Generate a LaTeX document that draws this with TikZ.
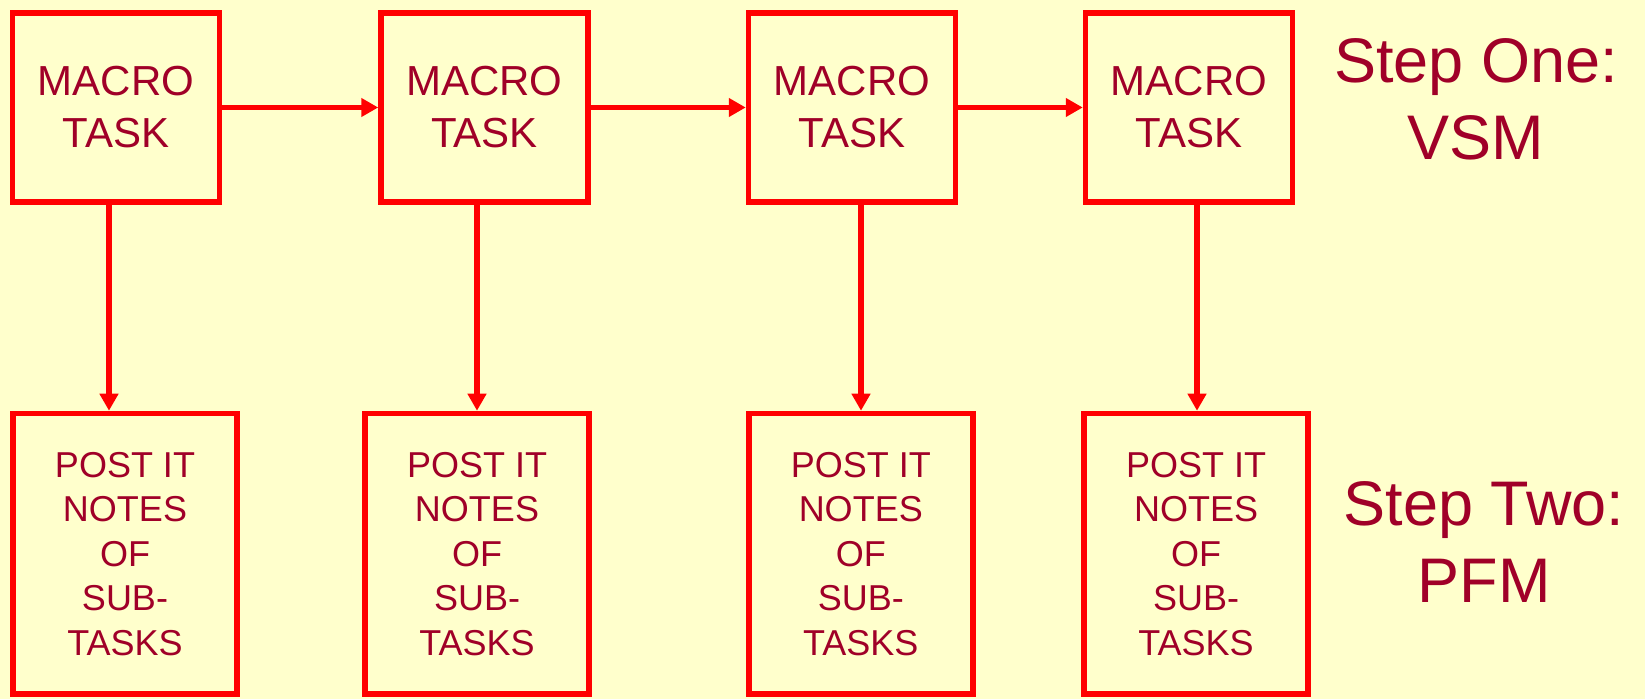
\documentclass[tikz,border=0pt]{standalone}
\usepackage{fontspec}
\setmainfont{Liberation Sans}
\usepackage{tikz}
\usetikzlibrary{arrows.meta}

\definecolor{bgyellow}{RGB}{255,255,204}
\definecolor{boxred}{RGB}{255,0,0}
\definecolor{textred}{RGB}{160,0,40}

\begin{document}
\begin{tikzpicture}[x=1pt,y=1pt,
    macrobox/.style={draw=boxred, line width=5.5pt, minimum width=207pt, minimum height=189pt,
        align=center, text=textred, font=\fontsize{42}{52}\selectfont},
    notebox/.style={draw=boxred, line width=5.5pt, minimum width=224pt, minimum height=280.5pt,
        align=center, text=textred, font=\fontsize{36}{44.5}\selectfont},
    flowarrow/.style={draw=boxred, line width=5.5pt, -{Triangle[width=18pt,length=17pt]}},
    steplabel/.style={align=center, text=textred, font=\fontsize{63}{77}\selectfont}]

\fill[bgyellow] (0,0) rectangle (1645,699);
\useasboundingbox (0,0) rectangle (1645,699);

% macro tasks (VSM)
\foreach \i/\x in {1/116,2/484.5,3/852,4/1189}
    \node [macrobox] (b\i) at (\x,591.5) {MACRO\\TASK};

% sub-task notes (PFM)
\foreach \i/\x in {1/125,2/477,3/860.75,4/1196}
    \node [notebox] (p\i) at (\x,145.25) {POST IT\\NOTES\\OF\\SUB-\\TASKS};

\foreach \i/\j in {1/2,2/3,3/4}
    \draw [flowarrow] (b\i) -- (b\j);

\foreach \i/\dx in {1/-7,2/-7.5,3/9,4/8}
    \draw [flowarrow] ([xshift=\dx]b\i.south) -- ([xshift=\dx]b\i.south |- p\i.north);

\node [steplabel] (vsm) at (1476,600) {Step One:\\VSM};
\node [steplabel] (pfm) at (1484,156.5) {Step Two:\\PFM};

\end{tikzpicture}
\end{document}
